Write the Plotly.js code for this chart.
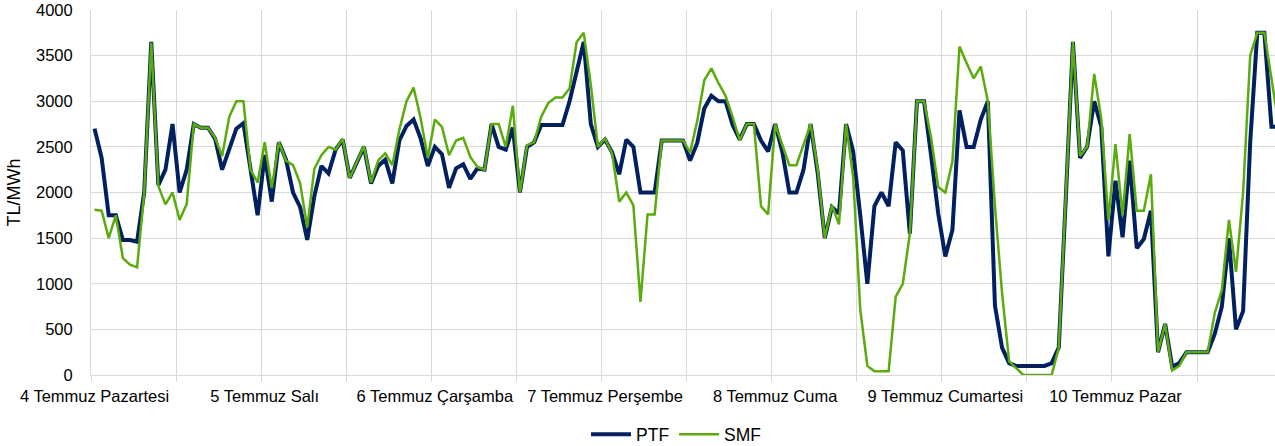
<!DOCTYPE html>
<html>
<head>
<meta charset="utf-8">
<script src="https://cdn.plot.ly/plotly-3.0.1.min.js"></script>
<style>
  html, body { margin: 0; padding: 0; background: #ffffff; }
  #chart { width: 1275px; height: 446px; }
</style>
</head>
<body>
<div id="chart"></div>
<script>
// Day labels (one per 24 hourly values)
const dayLabels = ["4 Temmuz Pazartesi", "5 Temmuz Salı", "6 Temmuz Çarşamba", "7 Temmuz Perşembe", "8 Temmuz Cuma", "9 Temmuz Cumartesi", "10 Temmuz Pazar"];

// PTF hourly values (TL/MWh)
const ptfDay1 = [2700, 2380, 1750, 1750, 1480, 1480, 1460, 2000, 3650, 2080, 2250, 2750, 2000, 2250, 2750, 2710, 2710, 2590, 2250, 2480, 2700, 2760, 2250, 1750];
const ptfDay2 = [2410, 1900, 2550, 2360, 2000, 1840, 1480, 1960, 2290, 2210, 2470, 2580, 2160, 2320, 2500, 2100, 2290, 2360, 2100, 2570, 2730, 2800, 2590, 2290];
const ptfDay3 = [2500, 2420, 2050, 2265, 2310, 2150, 2265, 2250, 2750, 2500, 2470, 2710, 2000, 2500, 2550, 2740, 2740, 2740, 2740, 3000, 3320, 3650, 2750, 2500];
const ptfDay4 = [2580, 2440, 2200, 2580, 2500, 2000, 2000, 2000, 2570, 2570, 2570, 2570, 2350, 2540, 2920, 3060, 3000, 3000, 2740, 2580, 2750, 2750, 2570, 2450];
const ptfDay5 = [2750, 2450, 2000, 2000, 2250, 2750, 2210, 1500, 1840, 1770, 2750, 2450, 1750, 1000, 1850, 2000, 1850, 2550, 2460, 1550, 3000, 3000, 2400, 1770];
const ptfDay6 = [1300, 1590, 2900, 2500, 2500, 2800, 3000, 760, 300, 130, 100, 100, 100, 100, 100, 130, 300, 1950, 3650, 2380, 2500, 3000, 2720, 1300];
const ptfDay7 = [2130, 1510, 2350, 1390, 1490, 1800, 250, 560, 90, 130, 250, 250, 250, 250, 450, 750, 1500, 500, 700, 2550, 3750, 3750, 2720, 2720];

// SMF hourly values (TL/MWh)
const smfDay1 = [1810, 1800, 1500, 1750, 1280, 1210, 1180, 1990, 3640, 2070, 1870, 2000, 1700, 1875, 2750, 2710, 2710, 2600, 2400, 2830, 3000, 3000, 2250, 2110];
const smfDay2 = [2550, 2050, 2550, 2350, 2300, 2100, 1620, 2260, 2410, 2500, 2470, 2590, 2160, 2330, 2510, 2110, 2350, 2430, 2300, 2690, 3000, 3150, 2810, 2380];
const smfDay3 = [2800, 2720, 2410, 2570, 2600, 2390, 2280, 2250, 2750, 2750, 2500, 2950, 2000, 2520, 2550, 2830, 2980, 3040, 3040, 3140, 3650, 3750, 3180, 2500];
const smfDay4 = [2590, 2430, 1900, 2000, 1860, 800, 1760, 1760, 2570, 2570, 2570, 2570, 2440, 2780, 3230, 3360, 3200, 3060, 2830, 2570, 2750, 2750, 1850, 1760];
const smfDay5 = [2750, 2520, 2300, 2300, 2520, 2750, 2250, 1500, 1860, 1650, 2750, 2170, 720, 100, 40, 40, 40, 860, 1000, 1550, 3000, 3000, 2600, 2060];
const smfDay6 = [2000, 2340, 3600, 3420, 3250, 3380, 3000, 1850, 900, 150, 70, 0, 0, 0, 0, 0, 300, 1950, 3650, 2400, 2500, 3300, 2810, 1700];
const smfDay7 = [2530, 1750, 2640, 1800, 1800, 2200, 250, 560, 50, 100, 250, 250, 250, 250, 680, 930, 1700, 1130, 2000, 3500, 3750, 3750, 3250, 2750];

const ptf = [].concat(ptfDay1, ptfDay2, ptfDay3, ptfDay4, ptfDay5, ptfDay6, ptfDay7);
const smf = [].concat(smfDay1, smfDay2, smfDay3, smfDay4, smfDay5, smfDay6, smfDay7);
const hours = ptf.map((_, i) => i);
const dayTickVals = dayLabels.map((_, d) => d * 24);

const FONT = "Arial, 'Liberation Sans', sans-serif";
const GRID = "#d9d9d9";

const traces = [
  { type: "scatter", mode: "lines", name: "PTF", x: hours, y: ptf,
    line: { color: "#002060", width: 4 } },
  { type: "scatter", mode: "lines", name: "SMF", x: hours, y: smf,
    line: { color: "#5aab0c", width: 2.5 } }
];

const layout = {
  width: 1275, height: 446,
  margin: { l: 91, r: 0, t: 10, b: 71 },
  paper_bgcolor: "#ffffff", plot_bgcolor: "#ffffff",
  font: { family: FONT, size: 16.5, color: "#000000" },
  showlegend: true,
  legend: { orientation: "h", xref: "container", yref: "container",
            x: 0.5306, xanchor: "center", y: 0.026, yanchor: "middle",
            font: { family: FONT, size: 17.5, color: "#000000" }, itemwidth: 40, tracegroupgap: 0 },
  xaxis: {
    range: [-0.5, 166.5], fixedrange: true,
    tickmode: "array", tickvals: dayTickVals, ticktext: dayLabels,
    showgrid: false, zeroline: false, ticks: "",
    showline: true, linecolor: GRID, linewidth: 1,
    ticklabelstandoff: 6,
    tickfont: { family: FONT, size: 16.5, color: "#000000" },
    minor: { tickmode: "linear", tick0: -0.5, dtick: 12, showgrid: true, gridcolor: GRID, gridwidth: 1,
             ticks: "outside", ticklen: 6, tickcolor: GRID, tickwidth: 1 }
  },
  yaxis: {
    range: [0, 4000], fixedrange: true, tickmode: "linear", tick0: 0, dtick: 500,
    showgrid: true, gridcolor: GRID, gridwidth: 1, zeroline: false,
    showline: true, linecolor: GRID, linewidth: 1,
    ticks: "", ticklabelstandoff: 14,
    tickfont: { family: FONT, size: 16.5, color: "#000000" },
    title: { text: "TL/MWh", font: { family: FONT, size: 18, color: "#000000" }, standoff: 10 }
  }
};

Plotly.newPlot("chart", traces, layout, { displayModeBar: false, staticPlot: true });
</script>
</body>
</html>
